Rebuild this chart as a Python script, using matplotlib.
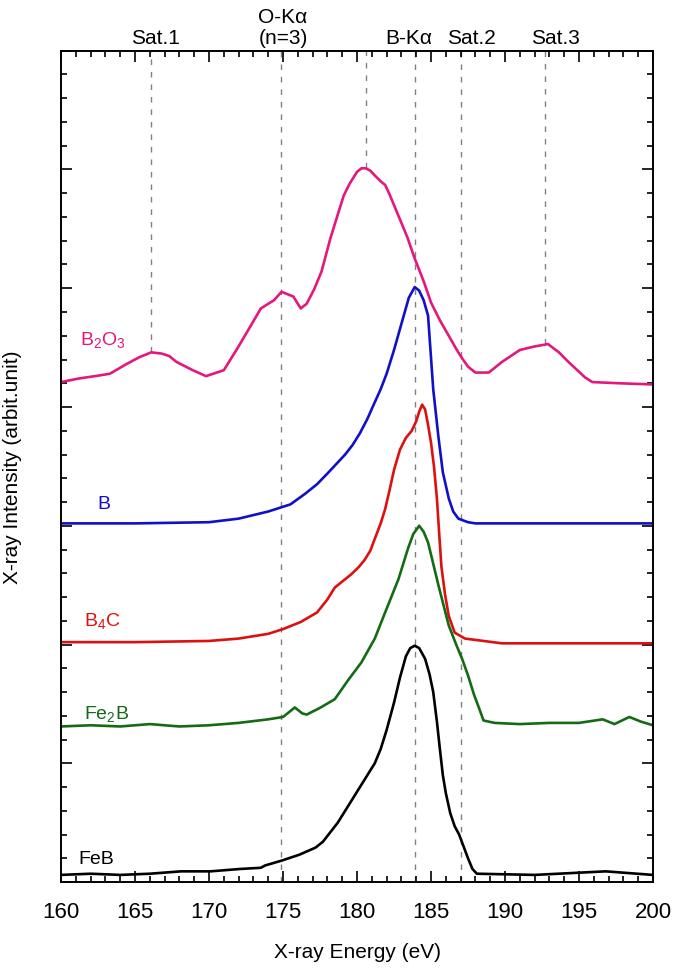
import matplotlib
matplotlib.use("Agg")
import matplotlib.pyplot as plt
from matplotlib.ticker import MultipleLocator
import matplotlib.transforms as mtransforms

plt.rcParams['font.family'] = ['Liberation Sans', 'DejaVu Sans']
plt.rcParams['mathtext.default'] = 'regular'

# spectra (energy in eV, intensity offset per sample)
b2o3_x = [160, 161.2, 162.3, 163.3, 164.4, 165.3, 166.1, 166.8, 167.3, 167.8, 168.9, 169.8,
          171.0, 171.9, 172.8, 173.5, 174.4, 174.9, 175.7, 176.2, 176.6, 177.1, 177.6, 178.2,
          178.7, 179.1, 179.5, 180.0, 180.3, 180.6, 180.9, 181.2, 181.6, 181.9, 182.2, 182.8,
          183.4, 183.9, 184.5, 185.0, 185.6, 186.2, 186.7, 187.1, 187.5, 188.0, 188.9, 189.8,
          190.4, 191.0, 192.0, 192.9, 193.65, 194.2, 194.8, 195.4, 195.9, 197.7, 200]
b2o3_y = [4.21, 4.24, 4.26, 4.28, 4.36, 4.42, 4.46, 4.45, 4.43, 4.38, 4.31, 4.26,
          4.31, 4.49, 4.68, 4.83, 4.90, 4.97, 4.93, 4.83, 4.87, 4.99, 5.14, 5.42,
          5.62, 5.78, 5.88, 5.98, 6.01, 6.01, 5.99, 5.95, 5.90, 5.87, 5.79, 5.61,
          5.43, 5.25, 5.06, 4.88, 4.73, 4.60, 4.49, 4.41, 4.34, 4.29, 4.29, 4.38,
          4.43, 4.48, 4.51, 4.53, 4.46, 4.39, 4.32, 4.25, 4.21, 4.20, 4.19]

b_x = [160, 165, 170, 172, 174, 175.5, 176.5, 177.3, 178, 178.6, 179.2, 179.7, 180.2,
       180.7, 181.2, 181.6, 182.0, 182.5, 183.0, 183.5, 183.9, 184.2, 184.5, 184.8,
       185.15, 185.5, 185.8, 186.2, 186.5, 186.85, 187.5, 188, 200]
b_y = [3.02, 3.02, 3.03, 3.06, 3.12, 3.18, 3.27, 3.35, 3.44, 3.52, 3.60, 3.68, 3.78,
       3.90, 4.04, 4.15, 4.28, 4.48, 4.70, 4.92, 5.01, 4.98, 4.90, 4.77,
       4.15, 3.75, 3.45, 3.23, 3.12, 3.06, 3.03, 3.02, 3.02]

b4c_x = [160, 165, 170, 172, 174, 175, 176.2, 177.3, 178.0, 178.5, 179.1, 179.6, 180.1,
         180.5, 180.9, 181.2, 181.6, 181.9, 182.2, 182.5, 182.9, 183.3, 183.7, 184.0,
         184.2, 184.4, 184.6, 184.8, 185.0, 185.2, 185.4, 185.55, 185.7, 185.95, 186.2,
         186.6, 187.3, 189.8, 200]
b4c_y = [2.02, 2.02, 2.03, 2.05, 2.09, 2.13, 2.19, 2.27, 2.38, 2.48, 2.54, 2.59, 2.65,
         2.71, 2.79, 2.89, 3.02, 3.14, 3.30, 3.47, 3.64, 3.74, 3.80, 3.88,
         3.96, 4.02, 3.98, 3.85, 3.70, 3.50, 3.23, 2.94, 2.66, 2.42, 2.24,
         2.10, 2.05, 2.01, 2.01]

fe2b_x = [160, 162, 164, 166, 168, 170, 172, 174, 175, 175.8, 176.3, 176.6, 177.55, 178.5,
          179.4, 180.3, 181.2, 181.9, 182.8, 183.45, 183.8, 184.2, 184.5, 184.8, 185.5,
          186.2, 186.7, 187.1, 187.5, 187.9, 188.2, 188.55, 189.3, 191, 193, 195, 196.6,
          197.4, 198.4, 199.2, 200]
fe2b_y = [1.31, 1.32, 1.31, 1.33, 1.31, 1.32, 1.34, 1.37, 1.39, 1.47, 1.42, 1.41, 1.47, 1.54,
          1.70, 1.85, 2.05, 2.27, 2.55, 2.81, 2.93, 3.00, 2.95, 2.86, 2.50,
          2.16, 2.00, 1.88, 1.74, 1.58, 1.48, 1.36, 1.34, 1.33, 1.34, 1.34, 1.37,
          1.33, 1.39, 1.35, 1.32]

feb_x = [160, 162, 164, 166, 168.1, 170.1, 172.1, 173.5, 173.8, 174.9, 176.1, 177.2, 177.7,
         178.2, 178.7, 179.2, 179.7, 180.2, 180.7, 181.2, 181.6, 182.0, 182.5, 182.9,
         183.3, 183.6, 183.9, 184.2, 184.6, 184.9, 185.15, 185.4, 185.6, 185.8, 186.0,
         186.3, 186.6, 186.9, 187.2, 187.5, 187.8, 188.1, 192, 196.8, 200]
feb_y = [0.06, 0.07, 0.06, 0.07, 0.09, 0.09, 0.11, 0.12, 0.14, 0.18, 0.23, 0.29, 0.34,
         0.42, 0.50, 0.60, 0.70, 0.80, 0.90, 1.00, 1.12, 1.28, 1.51, 1.72,
         1.90, 1.97, 1.99, 1.97, 1.88, 1.75, 1.60, 1.35, 1.12, 0.90, 0.75,
         0.58, 0.47, 0.40, 0.30, 0.20, 0.11, 0.07, 0.06, 0.09, 0.06]

# reference lines: (energy, lower end of the dashed line)
line_pos = [166.1, 174.85, 180.6, 183.9, 187.0, 192.7]
line_bottom = [4.46, 0.0, 6.01, 0.0, 0.0, 4.53]

fig = plt.figure(figsize=(6.75, 9.78), dpi=100)
ax = fig.add_axes([0.0904, 0.0971, 0.877, 0.85])

for xv, yb in zip(line_pos, line_bottom):
    ax.plot([xv, xv], [yb, 7], color='#808080', lw=1.0, ls=(0, (4, 5)), zorder=1)

ax.plot(b2o3_x, b2o3_y, color='#E5177D', lw=1.9)
ax.plot(b_x, b_y, color='#1010C8', lw=1.9)
ax.plot(b4c_x, b4c_y, color='#DD1010', lw=1.9)
ax.plot(fe2b_x, fe2b_y, color='#136B13', lw=1.9)
ax.plot(feb_x, feb_y, color='black', lw=1.9)

# sample labels
ax.text(162.8, 4.57, r'B$_2$O$_3$', color='#E5177D', fontsize=14, ha='center', va='center')
ax.text(162.9, 3.19, 'B', color='#1010C8', fontsize=14, ha='center', va='center')
ax.text(162.8, 2.21, r'B$_4$C', color='#DD1010', fontsize=14, ha='center', va='center')
ax.text(163.1, 1.42, r'Fe$_2$B', color='#136B13', fontsize=14, ha='center', va='center')
ax.text(162.4, 0.20, 'FeB', color='black', fontsize=14, ha='center', va='center')

# labels above the frame
trans = mtransforms.blended_transform_factory(ax.transData, ax.transAxes)
ax.text(166.4, 1.004, 'Sat.1', transform=trans, ha='center', va='bottom', fontsize=15)
ax.text(175.0, 1.004, 'O-Kα\n(n=3)', transform=trans, ha='center', va='bottom', fontsize=15,
        linespacing=1.15)
ax.text(183.5, 1.004, 'B-Kα', transform=trans, ha='center', va='bottom', fontsize=15)
ax.text(187.75, 1.004, 'Sat.2', transform=trans, ha='center', va='bottom', fontsize=15)
ax.text(193.4, 1.004, 'Sat.3', transform=trans, ha='center', va='bottom', fontsize=15)

ax.set_xlim(160, 200)
ax.set_ylim(0, 7)
ax.xaxis.set_major_locator(MultipleLocator(5))
ax.xaxis.set_minor_locator(MultipleLocator(1))
ax.yaxis.set_major_locator(MultipleLocator(1))
ax.yaxis.set_minor_locator(MultipleLocator(0.2))
ax.tick_params(which='both', direction='in', top=True, right=True, width=1.2)
ax.tick_params(which='major', length=8, labelsize=16, pad=14)
ax.tick_params(which='minor', length=4.5)
ax.set_yticklabels([])
for sp in ax.spines.values():
    sp.set_linewidth(1.4)

ax.set_xlabel('X-ray Energy (eV)', fontsize=15, labelpad=14)
ax.set_ylabel('X-ray Intensity (arbit.unit)', fontsize=15, labelpad=14)

fig.savefig('out.png', dpi=100)
